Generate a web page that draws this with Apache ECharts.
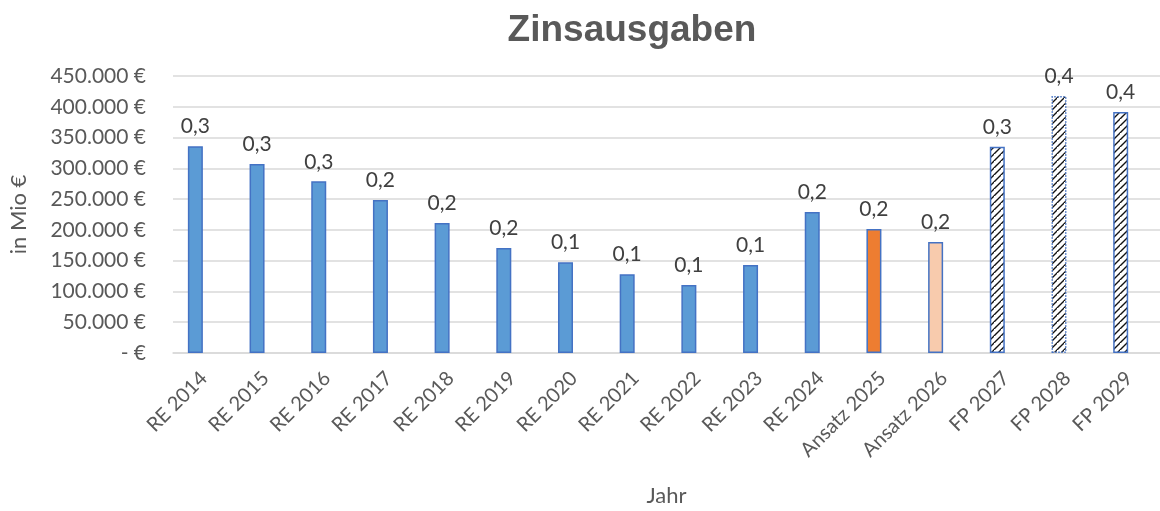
<!DOCTYPE html>
<html>
<head>
<meta charset="utf-8">
<script src="https://cdn.jsdelivr.net/npm/echarts@6/dist/echarts.min.js"></script>
<style>html,body{margin:0;padding:0;background:#fff}#c{width:1160px;height:511px}</style>
</head>
<body>
<div id="c"></div>
<script>
const categories = ['RE 2014','RE 2015','RE 2016','RE 2017','RE 2018','RE 2019','RE 2020','RE 2021','RE 2022','RE 2023','RE 2024','Ansatz 2025','Ansatz 2026','FP 2027','FP 2028','FP 2029'];
const values = [336000, 307000, 279000, 248500, 211000, 170500, 147500, 128000, 110500, 143000, 229000, 201500, 180500, 335000, 417500, 391500];
const yTicks = [0, 50000, 100000, 150000, 200000, 250000, 300000, 350000, 400000, 450000];

const FONT = 'Lato, "Open Sans", sans-serif';

function hatch() {
  const s = 7;
  const c = document.createElement('canvas');
  c.width = s; c.height = s;
  const g = c.getContext('2d');
  g.fillStyle = '#fff'; g.fillRect(0,0,s,s);
  g.strokeStyle = '#111'; g.lineWidth = 1.4;
  g.beginPath();
  g.moveTo(-1,s+1); g.lineTo(s+1,-1);
  g.moveTo(-s-1,1+0); g.lineTo(1,-s-1);
  g.moveTo(-1,2*s+1); g.lineTo(2*s+1,-1);
  g.stroke();
  return c;
}
const hatchImg = hatch();

const data = values.map((v, i) => {
  const name = categories[i];
  let style;
  if (name.startsWith('RE')) style = {color: '#5B9BD5', borderColor: '#4472C4', borderWidth: 1.5};
  else if (name === 'Ansatz 2025') style = {color: '#ED7D31', borderColor: '#4472C4', borderWidth: 1.5};
  else if (name.startsWith('Ansatz')) style = {color: '#F8CBAD', borderColor: '#4472C4', borderWidth: 1.5};
  else style = {color: {image: hatchImg, repeat: 'repeat'}, borderColor: '#4472C4', borderWidth: 1.5,
                borderType: name === 'FP 2028' ? 'dotted' : 'solid'};
  return {value: v, itemStyle: style};
});

function fmtY(v) {
  if (v === 0) return '- €';
  return String(v).replace(/\B(?=(\d{3})+(?!\d))/g, '.') + ' €';
}

const chart = echarts.init(document.getElementById('c'));
chart.setOption({
  animation: false,
  title: {
    text: 'Zinsausgaben', left: 627, top: 7, textAlign: 'center',
    textStyle: {fontFamily: 'Liberation Sans, Arial, sans-serif', fontWeight: 'bold', fontSize: 37, color: '#595959'}
  },
  grid: {left: 173, right: 0, top: 76, bottom: 158, containLabel: false, outerBoundsMode: 'none'},
  xAxis: {
    type: 'category', data: categories,
    name: 'Jahr', nameLocation: 'middle', nameGap: 132,
    nameTextStyle: {fontFamily: FONT, fontSize: 22, color: '#595959'},
    axisTick: {show: false},
    axisLine: {lineStyle: {color: '#D9D9D9', width: 1.5}},
    axisLabel: {rotate: 45, fontFamily: FONT, fontSize: 20, color: '#595959', margin: 22, interval: 0}
  },
  yAxis: {
    type: 'value', min: 0, max: 450000, interval: 50000,
    name: 'in Mio €', nameLocation: 'middle', nameGap: 143, nameRotate: 90,
    nameTextStyle: {fontFamily: FONT, fontSize: 22, color: '#595959'},
    axisLine: {show: false}, axisTick: {show: false},
    splitLine: {lineStyle: {color: '#D9D9D9', width: 1.5}},
    axisLabel: {fontFamily: FONT, fontSize: 21, color: '#595959', margin: 27,
      formatter: v => yTicks.includes(v) ? fmtY(v) : ''}
  },
  series: [
    {
      type: 'bar', data: data, barWidth: 15, barGap: '13%',
      label: {
        show: true, position: 'top', distance: 9,
        fontFamily: FONT, fontSize: 21, color: '#404040',
        formatter: p => (p.value / 1e6).toFixed(1).replace('.', ',')
      }
    },
    {type: 'bar', data: categories.map(() => null), barWidth: 15, silent: true}
  ]
});
</script>
</body>
</html>
